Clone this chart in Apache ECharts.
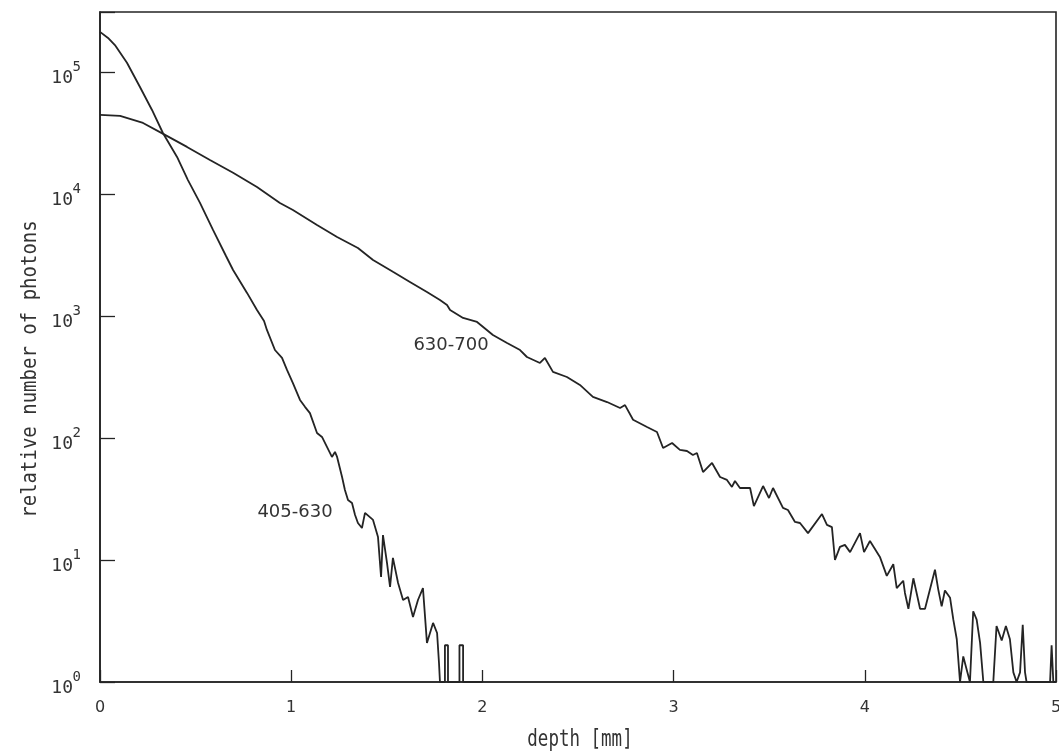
<!DOCTYPE html>
<html>
<head>
<meta charset="utf-8">
<title>Photon depth distribution</title>
<script src="https://cdn.jsdelivr.net/npm/echarts@6/dist/echarts.min.js"></script>
<style>
  html, body { margin: 0; padding: 0; background: #ffffff; overflow: hidden; }
  #chart { width: 1059px; height: 756px; }
</style>
</head>
<body>
<div id="chart"></div>
<script>
// Depth [mm] and relative photon counts, 405-630 nm band
const depth405 = [0, 0.042, 0.078, 0.141, 0.209, 0.272, 0.329, 0.403, 0.460, 0.523,
  0.591, 0.659, 0.696, 0.769, 0.821, 0.858, 0.873, 0.915, 0.952, 0.978,
  1.009, 1.046, 1.072, 1.098, 1.135, 1.161, 1.187, 1.213, 1.229, 1.240,
  1.266, 1.281, 1.297, 1.318, 1.334, 1.349, 1.370, 1.386, 1.428, 1.454,
  1.470, 1.480, 1.501, 1.517, 1.532, 1.559, 1.585, 1.611, 1.637, 1.663,
  1.689, 1.710, 1.742, 1.763, 1.773, 1.778, 1.804, 1.804, 1.820, 1.820,
  1.880, 1.880, 1.899, 1.899, 2.0];
const count405 = [213000, 190000, 166000, 119000, 75300, 48800, 31600, 20100, 13000, 8440,
  5070, 3100, 2380, 1545, 1120, 910, 768, 526, 453, 361,
  282, 205, 180, 160, 110, 102, 84.4, 69.9, 76.8, 69.9,
  47.9, 37.5, 31.0, 29.3, 23.4, 20.1, 18.3, 24.3, 21.3, 15.4,
  7.26, 16.0, 9.45, 6.01, 10.4, 6.48, 4.70, 4.97, 3.41, 4.70,
  5.89, 2.09, 3.05, 2.52, 1.43, 1, 1, 2, 2, 1,
  1, 2, 2, 1, 1];

// Depth [mm] and relative photon counts, 630-700 nm band
const depth630 = [0, 0.105, 0.225, 0.340, 0.455, 0.575, 0.696, 0.821, 0.941, 1.009,
  1.135, 1.240, 1.349, 1.428, 1.532, 1.621, 1.710, 1.778, 1.815, 1.831,
  1.899, 1.972, 2.055, 2.129, 2.197, 2.233, 2.301, 2.327, 2.369, 2.442,
  2.510, 2.578, 2.652, 2.720, 2.746, 2.788, 2.861, 2.913, 2.945, 2.992,
  3.033, 3.070, 3.101, 3.122, 3.154, 3.201, 3.243, 3.279, 3.305, 3.321,
  3.347, 3.400, 3.420, 3.468, 3.499, 3.520, 3.572, 3.598, 3.635, 3.661,
  3.703, 3.776, 3.802, 3.828, 3.844, 3.870, 3.896, 3.923, 3.975, 3.996,
  4.027, 4.079, 4.115, 4.149, 4.167, 4.201, 4.210, 4.228, 4.254, 4.271,
  4.289, 4.315, 4.367, 4.384, 4.402, 4.419, 4.446, 4.463, 4.481, 4.498,
  4.515, 4.533, 4.550, 4.567, 4.585, 4.603, 4.620, 4.672, 4.689, 4.716,
  4.738, 4.759, 4.777, 4.794, 4.812, 4.826, 4.838, 4.846, 4.969, 4.977,
  4.986, 5.0];
const count630 = [44400, 43600, 38200, 30500, 24300, 19000, 14900, 11400, 8440, 7390,
  5570, 4440, 3610, 2880, 2300, 1900, 1570, 1350, 1230, 1120,
  963, 893, 699, 601, 526, 461, 412, 453, 348, 316,
  272, 217, 197, 176, 186, 141, 123, 112, 82.8, 91.0,
  79.8, 78.2, 72.6, 75.4, 52.6, 62.4, 47.9, 45.3, 39.7, 44.4,
  38.9, 38.9, 27.7, 40.4, 32.2, 38.9, 26.7, 25.7, 20.5, 20.1,
  16.6, 23.8, 19.4, 18.6, 10.0, 12.8, 13.3, 11.6, 16.6, 11.6,
  14.3, 10.6, 7.41, 9.23, 5.89, 6.76, 5.37, 3.98, 7.08, 5.37,
  3.98, 3.98, 8.32, 5.75, 4.17, 5.62, 4.90, 3.24, 2.24, 1,
  1.62, 1.26, 1, 3.80, 3.24, 2.09, 1, 1, 2.88, 2.19,
  2.88, 2.24, 1.20, 1, 1.20, 2.95, 1.20, 1, 1, 2.0,
  1, 1];

// Axis ranges and labels
const depthTicks = [0, 1, 2, 3, 4, 5];
const countRange = [1, 310000];
const bandNames = ['405-630', '630-700'];
const xTitle = 'depth [mm]';
const yTitle = 'relative number of photons';

const ink = '#242424';
const zip = (xs, ys) => xs.map((x, i) => [x, ys[i]]);
// exponent of a power of ten, or null for other values
const decade = v => {
  const e = Math.log10(v);
  const r = Math.round(e);
  return Math.abs(e - r) < 1e-6 ? r : null;
};

const chart = echarts.init(document.getElementById('chart'), null, { renderer: 'canvas' });

const lineSeries = (name, xs, ys) => ({
  name: name,
  type: 'line',
  data: zip(xs, ys),
  showSymbol: false,
  symbol: 'none',
  silent: true,
  lineStyle: { color: ink, width: 1.8 },
  z: 3
});

const logAxisBase = {
  type: 'log',
  logBase: 10,
  min: countRange[0],
  max: countRange[1],
  position: 'left',
  splitLine: { show: false }
};

chart.setOption({
  backgroundColor: '#ffffff',
  animation: false,
  grid: {
    left: 100, top: 12, width: 956, height: 670,
    show: true, borderColor: ink, borderWidth: 1.6,
    containLabel: false,
    outerBoundsMode: 'none'
  },
  xAxis: {
    type: 'value',
    min: depthTicks[0],
    max: depthTicks[depthTicks.length - 1],
    interval: 1,
    axisLine: { show: true, lineStyle: { color: ink, width: 1.6 } },
    axisTick: { show: true, inside: true, length: 12, lineStyle: { color: ink, width: 1.3 } },
    splitLine: { show: false },
    axisLabel: {
      margin: 18,
      color: '#333',
      fontFamily: 'DejaVu Sans',
      fontSize: 16,
      formatter: v => String(v)
    }
  },
  yAxis: [
    // main log axis: line, ticks and the "10" mantissa
    Object.assign({}, logAxisBase, {
      axisLine: { show: true, lineStyle: { color: ink, width: 1.6 } },
      axisTick: { show: true, inside: true, length: 15, lineStyle: { color: ink, width: 1.3 } },
      axisLabel: {
        margin: 27,
        color: '#333',
        fontFamily: 'DejaVu Sans Mono',
        fontSize: 18,
        lineHeight: 13,
        verticalAlign: 'top',
        formatter: v => (decade(v) === null ? '' : '10')
      }
    }),
    // overlay axis carrying only the raised exponents
    Object.assign({}, logAxisBase, {
      axisLine: { show: false },
      axisTick: { show: false },
      axisLabel: {
        margin: 19,
        color: '#333',
        fontFamily: 'DejaVu Sans Mono',
        fontSize: 14,
        lineHeight: 10,
        verticalAlign: 'bottom',
        formatter: v => { const d = decade(v); return d === null ? '' : String(d); }
      }
    })
  ],
  series: [
    lineSeries(bandNames[0], depth405, count405),
    lineSeries(bandNames[1], depth630, count630)
  ],
  graphic: [
    {
      type: 'text', x: 30, y: 369, rotation: Math.PI / 2, scaleY: 1.15,
      style: {
        text: yTitle, font: '19px "DejaVu Sans Mono"', fill: '#333',
        textAlign: 'center', textVerticalAlign: 'middle', align: 'center', verticalAlign: 'middle'
      }
    },
    {
      type: 'text', x: 580, y: 740, scaleY: 1.3,
      style: {
        text: xTitle, font: '17.5px "DejaVu Sans Mono"', fill: '#333',
        textAlign: 'center', textVerticalAlign: 'middle', align: 'center', verticalAlign: 'middle'
      }
    },
    {
      type: 'text', x: 295, y: 512,
      style: {
        text: bandNames[0], font: '18px "DejaVu Sans"', fill: '#333',
        textAlign: 'center', textVerticalAlign: 'middle', align: 'center', verticalAlign: 'middle'
      }
    },
    {
      type: 'text', x: 451, y: 345,
      style: {
        text: bandNames[1], font: '18px "DejaVu Sans"', fill: '#333',
        textAlign: 'center', textVerticalAlign: 'middle', align: 'center', verticalAlign: 'middle'
      }
    }
  ]
});
</script>
</body>
</html>
